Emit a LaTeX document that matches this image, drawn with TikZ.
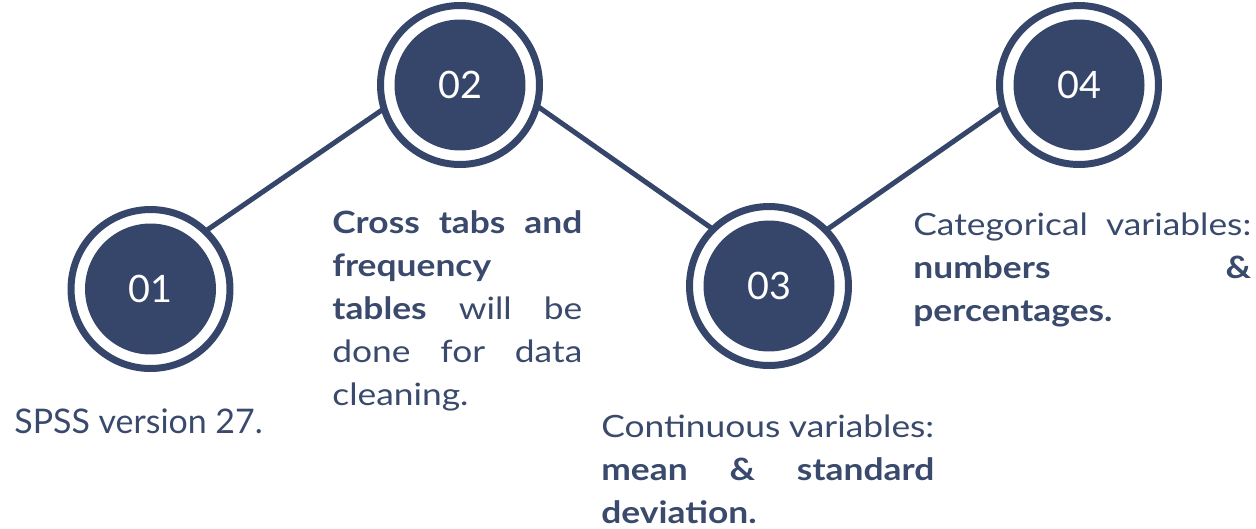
\documentclass[tikz,border=0pt]{standalone}
\usepackage{fontspec}
\setmainfont{Lato}[FakeStretch=1.15]
\newfontfamily\plainfont{Lato}
\definecolor{navy}{HTML}{36466A}
\definecolor{ink}{HTML}{3A4A6C}

\begin{document}
\begin{tikzpicture}[x=0.02cm, y=-0.02cm,
    ring/.style={circle, draw=navy, fill=white, line width=0.14cm, minimum size=3.18cm, inner sep=0pt},
    dot/.style={circle, fill=navy, minimum size=2.62cm, inner sep=0pt, text=white,
        font=\plainfont\fontsize{21.5}{21.5}\selectfont},
    link/.style={navy, line width=0.1cm, shorten <=-3pt, shorten >=-3pt},
    note/.style={anchor=base west, inner sep=0pt, text=ink, align=left,
        font=\fontsize{17.5}{24.5}\selectfont}]
    \useasboundingbox (0, 0) rectangle (1256, 528);
    \node[ring] (r1) at (150.5, 289) {};
    \node[ring] (r2) at (460, 85) {};
    \node[ring] (r3) at (769, 286) {};
    \node[ring] (r4) at (1079, 85) {};
    \node[dot] (d1) at (r1) {01};
    \node[dot] (d2) at (r2) {02};
    \node[dot] (d3) at (r3) {03};
    \node[dot] (d4) at (r4) {04};
    \draw[link] (r1.46) -- (r2.198);
    \draw[link] (r2.-16) -- (r3.135);
    \draw[link] (r3.44) -- (r4.197);
    \node[note, font=\plainfont\fontsize{19.3}{24.5}\selectfont] (t1) at (14, 433) {SPSS version 27.};
    \node[note, text width=5cm] (t2) at (332, 233)
        {\textbf{Cross}\hfill\textbf{tabs}\hfill\textbf{and}\\
         \textbf{frequency}\\
         \textbf{tables}\hfill will\hfill be\\
         done\hfill for\hfill data\\
         cleaning.};
    \node[note, text width=6.66cm] (t3) at (601, 437)
        {Continuous\hfill variables:\\
         \textbf{mean}\hfill\textbf{\&}\hfill\textbf{standard}\\
         \textbf{deviation.}};
    \node[note, text width=6.76cm] (t4) at (913, 235)
        {Categorical\hfill variables:\\
         \textbf{numbers}\hfill\textbf{\&}\\
         \textbf{percentages.}};
\end{tikzpicture}
\end{document}
